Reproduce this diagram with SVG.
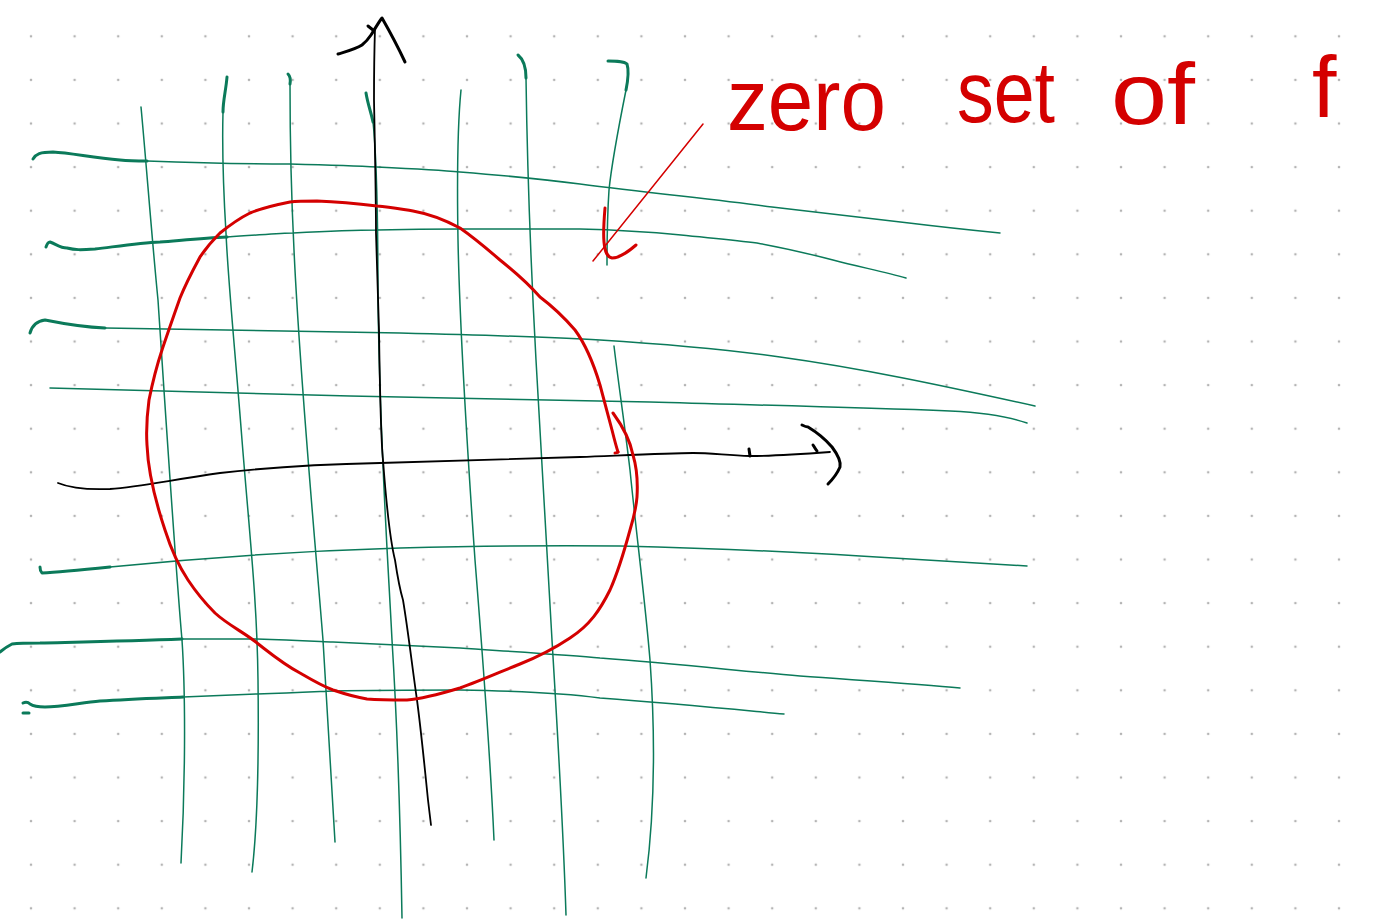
<svg xmlns="http://www.w3.org/2000/svg" width="1373" height="921" viewBox="0 0 1373 921">
<defs>
<pattern id="dots" patternUnits="userSpaceOnUse" x="9.2" y="14.5" width="43.6" height="43.6">
<circle cx="21.8" cy="21.8" r="1.3" fill="#b4b4b4"/>
</pattern>
<style>
.g{fill:none;stroke:#0b7a5a;stroke-width:1.5;stroke-linecap:round;stroke-linejoin:round}
.gt{fill:none;stroke:#0b7a5a;stroke-width:3;stroke-linecap:round;stroke-linejoin:round}
.k{fill:none;stroke:#000;stroke-width:1.8;stroke-linecap:round;stroke-linejoin:round}
.kt{fill:none;stroke:#000;stroke-width:3;stroke-linecap:round;stroke-linejoin:round}
.r{fill:none;stroke:#d40000;stroke-width:3;stroke-linecap:round;stroke-linejoin:round}
.rl{fill:none;stroke:#d40000;stroke-width:1.5;stroke-linecap:round}
.lbl{font-family:"Liberation Sans",Arial,sans-serif;font-size:88px;fill:#d40000}
</style>
</defs>
<rect width="1373" height="921" fill="#fff"/>
<rect width="1373" height="921" fill="url(#dots)"/>

<g id="grid-vertical">
<path class="g" d="M141,107 C146,160 152,240 158,300 C166,420 175,560 182,640 C186,700 185,790 181,863"/>
<path class="gt" d="M227,77 C226,90 223,100 223,112"/>
<path class="g" d="M223,112 C222,150 224,200 226,233 C228,280 235,350 242,440 C250,540 257,600 258,680 C259,760 257,830 252,872"/>
<path class="gt" d="M288,74 C290,76 291,78 290,84"/>
<path class="g" d="M290,84 C290,140 292,210 294,250 C300,380 315,540 323,640 C328,720 332,790 335,842"/>
<path class="gt" d="M366,93 C368,105 371,112 373,122"/>
<path class="g" d="M373,122 C376,150 378,200 378,300 C380,450 388,560 392,640 C397,720 400,800 402,918"/>
<path class="g" d="M461,90 C458,120 457,180 458,240 C460,340 468,460 475,560 C483,660 490,750 494,840"/>
<path class="gt" d="M518,55 C523,59 526,65 526,78"/>
<path class="g" d="M526,78 C527,150 530,250 536,360 C542,470 548,560 552,640 C558,740 563,820 566,915"/>
<path class="gt" d="M608,61 C616,61 624,61 627,64 C629,70 628,80 626,90"/>
<path class="g" d="M626,90 C620,120 612,160 609,190 C607,220 607,245 607,265"/>
<path class="g" d="M614,346 C618,380 624,420 630,470 C637,540 645,600 650,660 C655,730 656,800 646,878"/>
</g>

<g id="grid-horizontal">
<path class="gt" d="M33,159 C36,154 40,152 53,152 C70,153 90,157 120,160 C130,161 140,161 147,161"/>
<path class="g" d="M147,161 C200,163 250,164 290,164 C330,165 360,166 377,167 C420,169 440,170 460,172 C510,176 550,180 580,184 C650,193 720,200 772,207 C830,214 880,220 909,223 C950,228 980,231 1000,233"/>
<path class="gt" d="M46,247 C47,244 48,242 50,242 C56,244 60,248 67,248 C75,250 80,250 95,249 C120,246 140,243 160,242 C185,240 205,238 227,237"/>
<path class="g" d="M227,237 C260,235 280,233 293,233 C330,231 360,230 377,230 C420,229 440,229 460,229 C510,229 550,229 580,229 C620,230 650,232 681,235 C710,238 735,240 757,243 C790,249 810,254 833,260 C860,267 885,272 906,278"/>
<path class="gt" d="M30,333 C32,326 36,321 45,320 C60,323 80,327 105,328"/>
<path class="g" d="M105,328 C200,330 300,331 400,333 C480,335 550,337 600,340 C680,345 730,350 780,357 C860,368 940,385 1035,406"/>
<path class="g" d="M50,388 C150,391 250,394 350,396 C450,398 550,400 650,402 C750,405 850,407 950,411 C990,413 1010,417 1027,423"/>
<path class="gt" d="M40,567 C40,570 41,572 42,573 C60,572 80,570 110,567"/>
<path class="g" d="M110,567 C200,558 300,551 400,548 C480,546 550,545 620,546 C700,548 780,551 860,556 C930,560 990,564 1027,566"/>
<path class="gt" d="M0,652 C5,648 8,646 12,644 C20,643 28,643 40,643 C80,642 130,641 182,639"/>
<path class="g" d="M182,639 C210,639 235,639 257,639 C290,640 310,641 333,642 C380,644 420,646 460,648 C520,652 570,655 600,658 C680,664 740,671 800,676 C870,681 920,684 960,688"/>
<path class="gt" d="M23,703 C25,702 28,702 30,704 C33,706 37,707 45,707 C60,707 80,703 100,701 C130,699 160,698 183,697"/>
<path class="gt" d="M23,713 L29,713"/>
<path class="g" d="M183,697 C210,696 235,695 257,694 C290,693 310,692 333,691 C380,690 420,690 460,690 C520,691 570,694 600,698 C680,704 730,709 784,714"/>
</g>

<g id="axis-x">
<path class="k" d="M58,483 C70,488 85,490 110,489 C140,487 170,480 220,473 C280,466 330,464 380,463 C450,461 520,459 580,457 C630,455 670,453 693,453 C710,453 725,455 750,456 C770,456 790,455 830,452"/>
<path class="kt" d="M749,449 L750,456"/>
<path class="kt" d="M813,445 C815,448 816,450 817,451"/>
<path class="kt" d="M802,425 C804,426 806,427 808,427 C818,433 826,440 832,447 C838,455 841,462 840,467 C837,474 833,479 828,484"/>
</g>

<g id="axis-y">
<path class="k" d="M375,28 C374,60 374,80 374,100 C375,150 376,200 376,233 C377,270 378,300 379,330 C380,400 381,440 383,460 C386,500 390,540 395,560 C398,580 400,590 403,600 C408,630 412,665 417,700 C421,730 425,770 428,800 L431,825"/>
<path class="kt" d="M338,54 C348,51 356,49 362,45 C367,41 369,38 371,35 C375,29 378,23 382,18 C390,32 398,47 405,62"/>
<path class="kt" d="M368,26 L373,30"/>
</g>

<g id="zero-set">
<path class="r" d="M618,452 C616,446 614,438 612,430 C608,415 604,400 600,385 C594,365 586,345 575,330 C562,315 552,306 540,297 C525,280 510,268 500,260 C485,247 470,235 460,228 C445,220 430,214 413,211 C400,209 390,207 377,206 C360,204 340,202 317,201 C305,201 298,201 290,202 C275,205 262,208 250,213 C240,218 230,225 220,233 C212,241 206,248 200,257 C193,270 186,283 180,298 C173,318 167,335 162,350 C156,368 152,385 149,400 C147,415 146,430 147,445 C148,470 155,500 165,530 C172,552 178,565 188,580 C198,595 205,603 215,613 C228,625 245,633 257,643 C270,653 283,664 300,673 C312,680 322,686 333,690 C345,694 355,697 367,699 C380,700 395,700 407,700 C420,699 440,694 460,688 C480,681 500,672 520,664 C540,656 555,648 570,638 C590,625 600,610 610,590 C618,572 624,552 630,530 C633,520 636,510 637,497 C638,480 636,465 633,455 C630,440 624,428 613,413"/>
<path class="r" d="M618,452 C617,453 616,453 615,453"/>
</g>

<g id="label">
<path class="rl" d="M703,124 L593,261"/>
<path class="r" d="M605,208 C604,220 603,232 604,242 C605,252 607,257 612,258 C620,258 628,252 636,245"/>
<text class="lbl" x="727" y="130" textLength="159" lengthAdjust="spacingAndGlyphs">zero</text>
<text class="lbl" x="957" y="122" textLength="98" lengthAdjust="spacingAndGlyphs">set</text>
<text class="lbl" x="1111" y="124" textLength="84" lengthAdjust="spacingAndGlyphs">of</text>
<text class="lbl" x="1312" y="117">f</text>
</g>
</svg>
